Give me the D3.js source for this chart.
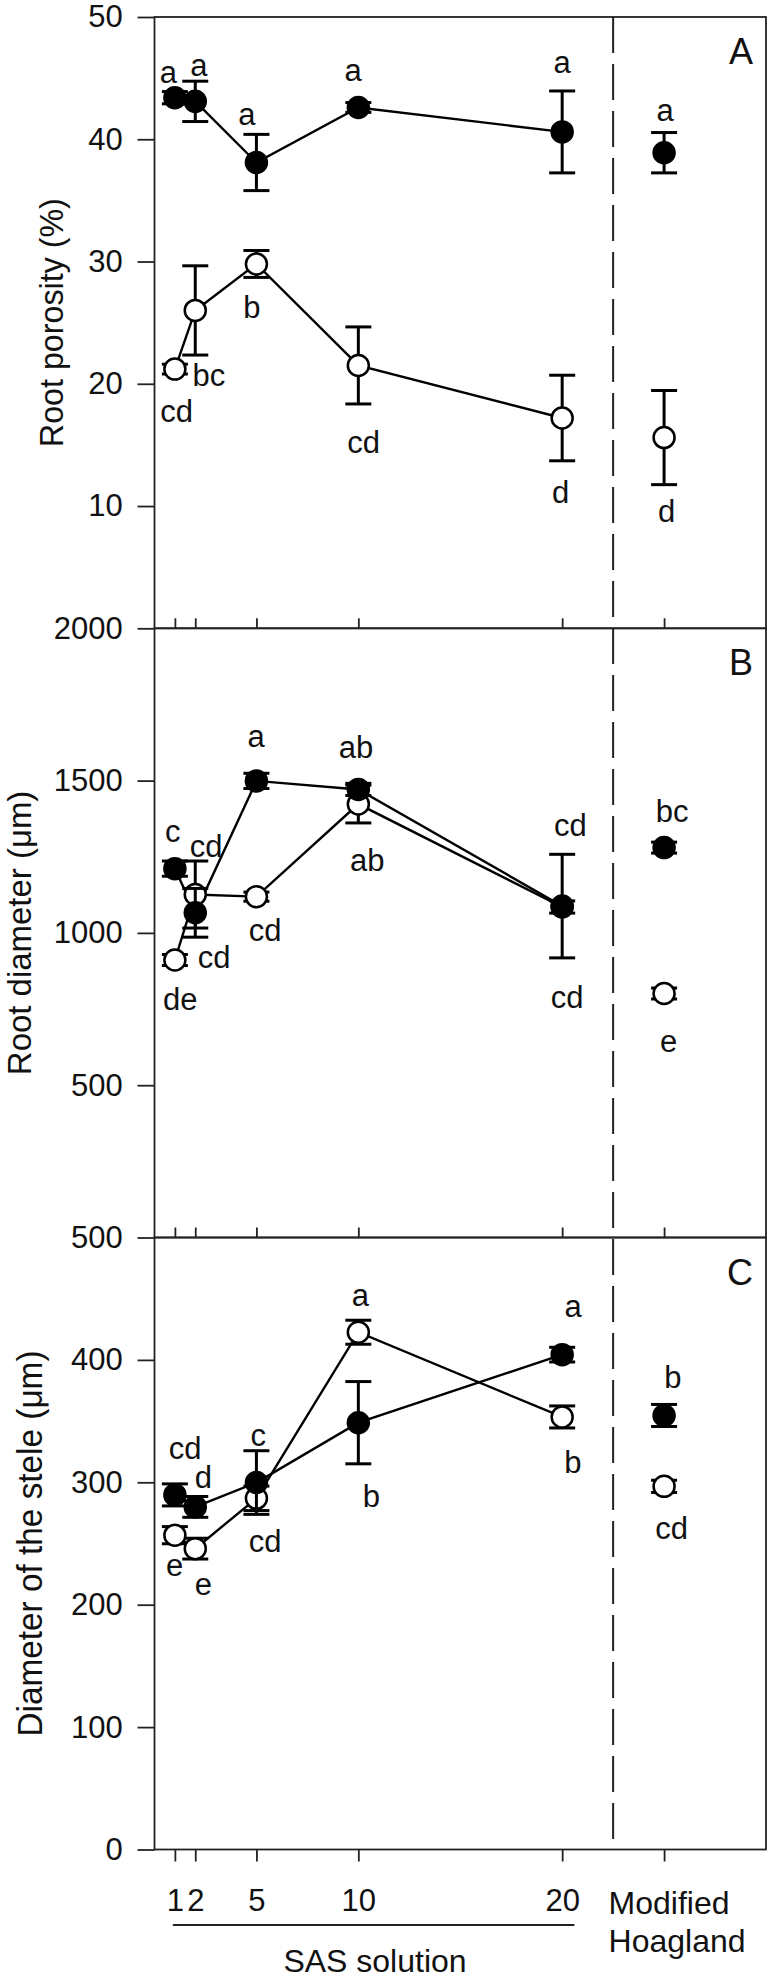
<!DOCTYPE html>
<html>
<head>
<meta charset="utf-8">
<script src="https://cdn.jsdelivr.net/npm/d3@7"></script>
<style>
  html, body { margin: 0; padding: 0; background: #fff; }
  svg { display: block; }
  text { font-family: "Liberation Sans", Arial, Helvetica, sans-serif; fill: #111; }
</style>
</head>
<body>
<svg id="chart" width="771" height="1981"></svg>
<script>
// ---------- data ----------
const xValues = [1, 2, 5, 10, 20, 25];           // 25 = Modified Hoagland slot
const xTickValues = [1, 2, 5, 10, 20, 25];
const xTickLabels = ["1", "2", "5", "10", "20", ""];
const modifiedLabel = ["Modified", "Hoagland"];
const sasLabel = "SAS solution";

// Panel A: Root porosity (%)
const porosityFilled    = [43.4, 43.1, 38.1, 42.6, 40.6, 38.9];
const porosityFilledErr = [0.5, 1.65, 2.3, 0.4, 3.35, 1.65];
const porosityOpen      = [21.2, 26.0, 29.8, 21.5, 17.2, 15.6];
const porosityOpenErr   = [0.4, 3.65, 1.1, 3.15, 3.5, 3.85];
const porosityTicks = [10, 20, 30, 40, 50];
const porosityLetters  = ["a", "a", "a", "a", "a", "a", "cd", "bc", "b", "cd", "d", "d"];
const porosityLetterX  = [0.68, 2.18, 4.53, 9.74, 20.0, 25.05, 1.09, 2.67, 4.78, 10.26, 19.93, 25.13];
const porosityLetterY  = [44.6, 45.2, 41.2, 44.8, 45.4, 41.5, 16.85, 19.85, 25.4, 14.35, 10.26, 8.67];

// Panel B: Root diameter (µm)
const diameterFilled    = [1211, 1066, 1499, 1471, 1088, 1280];
const diameterFilledErr = [25, 80, 25, 20, 170, 18];
const diameterOpen      = [911, 1126, 1119, 1423, 1085, 801];
const diameterOpenErr   = [18, 110, 15, 62, 20, 18];
const diameterTicks = [500, 1000, 1500, 2000];
const diameterLetters = ["c", "cd", "cd", "de", "a", "cd", "ab", "ab", "cd", "cd", "bc", "e"];
const diameterLetterX = [0.89, 2.53, 2.92, 1.26, 4.99, 5.43, 9.89, 10.44, 20.4, 20.24, 25.4, 25.22];
const diameterLetterY = [1298, 1250, 884, 746, 1609, 974, 1575, 1202, 1319, 755, 1363, 608];

// Panel C: Diameter of the stele (µm)
const steleFilled    = [289.7, 279.9, 299.8, 348.7, 404.3, 354.6];
const steleFilledErr = [9, 8.5, 26, 33.6, 6, 9];
const steleOpen      = [256.8, 245.8, 286.9, 422.6, 353.4, 296.7];
const steleOpenErr   = [7, 8.5, 10, 9.8, 9, 5];
const steleTicks = [0, 100, 200, 300, 400, 500];
const steleLetters = ["cd", "d", "e", "e", "c", "cd", "a", "b", "a", "b", "b", "cd"];
const steleLetterX = [1.5, 2.4, 0.99, 2.4, 5.09, 5.43, 10.1, 10.64, 20.54, 20.52, 25.43, 25.37];
const steleLetterY = [319, 295, 223.5, 208, 330, 243, 444, 280, 435, 308, 377, 254];

// ---------- layout ----------
const svg = d3.select("#chart");
const left = 154.5, right = 766;
const x = d3.scaleLinear().domain([0, 30]).range([left, right]);
const dividerX = 22.5;
const frameColor = "#222";

const panels = [
  { key: "A", title: "Root porosity (%)", top: 17, bottom: 628.3, domain: [0, 50], ticks: porosityTicks,
    filled: porosityFilled, filledErr: porosityFilledErr, open: porosityOpen, openErr: porosityOpenErr,
    letters: porosityLetters, lx: porosityLetterX, ly: porosityLetterY,
    titleX: 63, titleSize: 32.5, titleLen: 249 },
  { key: "B", title: "Root diameter (\u03bcm)", top: 628.3, bottom: 1237.5, domain: [0, 2000], ticks: diameterTicks,
    filled: diameterFilled, filledErr: diameterFilledErr, open: diameterOpen, openErr: diameterOpenErr,
    letters: diameterLetters, lx: diameterLetterX, ly: diameterLetterY,
    titleX: 31, titleSize: 33, titleLen: 284.5 },
  { key: "C", title: "Diameter of the stele (\u03bcm)", top: 1237.5, bottom: 1849.5, domain: [0, 500], ticks: steleTicks,
    filled: steleFilled, filledErr: steleFilledErr, open: steleOpen, openErr: steleOpenErr,
    letters: steleLetters, lx: steleLetterX, ly: steleLetterY,
    titleX: 41.7, titleSize: 35, titleLen: 386 }
];

const tickFont = 31;
const markerR = 10.5;
const capHalf = 13;

panels.forEach((p, pi) => {
  const y = d3.scaleLinear().domain(p.domain).range([p.bottom, p.top]);
  const g = svg.append("g");

  // frame
  g.append("rect")
    .attr("x", left).attr("y", p.top)
    .attr("width", right - left).attr("height", p.bottom - p.top)
    .attr("fill", "none").attr("stroke", frameColor).attr("stroke-width", 1.8);

  // y axis
  const ya = g.append("g").attr("transform", `translate(${left},0)`)
    .call(d3.axisLeft(y).tickValues(p.ticks).tickSize(17).tickPadding(14.8).tickFormat(d3.format("d")));
  ya.select(".domain").remove();
  ya.selectAll(".tick line").attr("stroke", frameColor).attr("stroke-width", 1.8);
  ya.selectAll(".tick text").attr("font-size", tickFont).attr("font-family", null).attr("fill", "#111");

  // x axis ticks
  const last = pi === panels.length - 1;
  if (!last) {
    const xa = g.append("g").attr("transform", `translate(0,${p.bottom})`)
      .call(d3.axisTop(x).tickValues(xTickValues).tickSize(10).tickFormat(""));
    xa.select(".domain").remove();
    xa.selectAll(".tick line").attr("stroke", frameColor).attr("stroke-width", 1.8);
  } else {
    const xa = g.append("g").attr("transform", `translate(0,${p.bottom})`)
      .call(d3.axisBottom(x).tickValues(xTickValues).tickSize(12).tickPadding(27.5)
        .tickFormat((d, i) => xTickLabels[i]));
    xa.select(".domain").remove();
    xa.selectAll(".tick line").attr("stroke", frameColor).attr("stroke-width", 1.8);
    xa.selectAll(".tick text").attr("font-size", tickFont).attr("font-family", null).attr("fill", "#111");
  }

  // y title
  g.append("text")
    .attr("transform", `translate(${p.titleX},${(p.top + p.bottom) / 2}) rotate(-90)`)
    .attr("text-anchor", "middle")
    .attr("font-size", p.titleSize)
    .attr("textLength", p.titleLen)
    .attr("lengthAdjust", "spacingAndGlyphs")
    .text(p.title);

  // panel letter
  g.append("text")
    .attr("x", 753).attr("y", p.top + 47)
    .attr("text-anchor", "end")
    .attr("font-size", 36)
    .text(p.key);

  // lines (SAS points only)
  const line = d3.line().x((d, i) => x(xValues[i])).y(d => y(d));
  [p.open, p.filled].forEach(series => {
    g.append("path")
      .datum(series.slice(0, 5))
      .attr("d", line)
      .attr("fill", "none").attr("stroke", "#000").attr("stroke-width", 2.4);
  });

  // error bars + markers
  const drawSeries = (vals, errs, filled) => {
    const eg = g.append("g");
    vals.forEach((v, i) => {
      const cx = x(xValues[i]);
      const y1 = y(v + errs[i]), y2 = y(v - errs[i]);
      eg.append("line").attr("x1", cx).attr("x2", cx).attr("y1", y1).attr("y2", y2)
        .attr("stroke", "#000").attr("stroke-width", 3);
      [y1, y2].forEach(yy => {
        eg.append("line").attr("x1", cx - capHalf).attr("x2", cx + capHalf).attr("y1", yy).attr("y2", yy)
          .attr("stroke", "#000").attr("stroke-width", 3);
      });
    });
    g.append("g").selectAll("circle")
      .data(vals).join("circle")
      .attr("cx", (d, i) => x(xValues[i]))
      .attr("cy", d => y(d))
      .attr("r", markerR)
      .attr("fill", filled ? "#000" : "#fff")
      .attr("stroke", "#000")
      .attr("stroke-width", 2.5);
  };
  drawSeries(p.open, p.openErr, false);
  drawSeries(p.filled, p.filledErr, true);

  // significance letters
  g.append("g").selectAll("text")
    .data(p.letters).join("text")
    .attr("x", (d, i) => x(p.lx[i]))
    .attr("y", (d, i) => y(p.ly[i]))
    .attr("text-anchor", "middle")
    .attr("font-size", tickFont)
    .text(d => d);
});

// dashed divider across all panels
svg.append("line")
  .attr("x1", x(dividerX)).attr("x2", x(dividerX))
  .attr("y1", panels[0].top).attr("y2", panels[2].bottom)
  .attr("stroke", frameColor).attr("stroke-width", 2)
  .attr("stroke-dasharray", "36 11");

// SAS solution bracket and labels
svg.append("line")
  .attr("x1", x(0.9)).attr("x2", x(20.6))
  .attr("y1", 1925).attr("y2", 1925)
  .attr("stroke", frameColor).attr("stroke-width", 2);
svg.append("text")
  .attr("x", 375).attr("y", 1972)
  .attr("text-anchor", "middle")
  .attr("font-size", 32)
  .text(sasLabel);
svg.append("text")
  .attr("x", 608.6).attr("y", 1914)
  .attr("font-size", 32)
  .text(modifiedLabel[0]);
svg.append("text")
  .attr("x", 608.6).attr("y", 1952)
  .attr("font-size", 32)
  .text(modifiedLabel[1]);
</script>
</body>
</html>
